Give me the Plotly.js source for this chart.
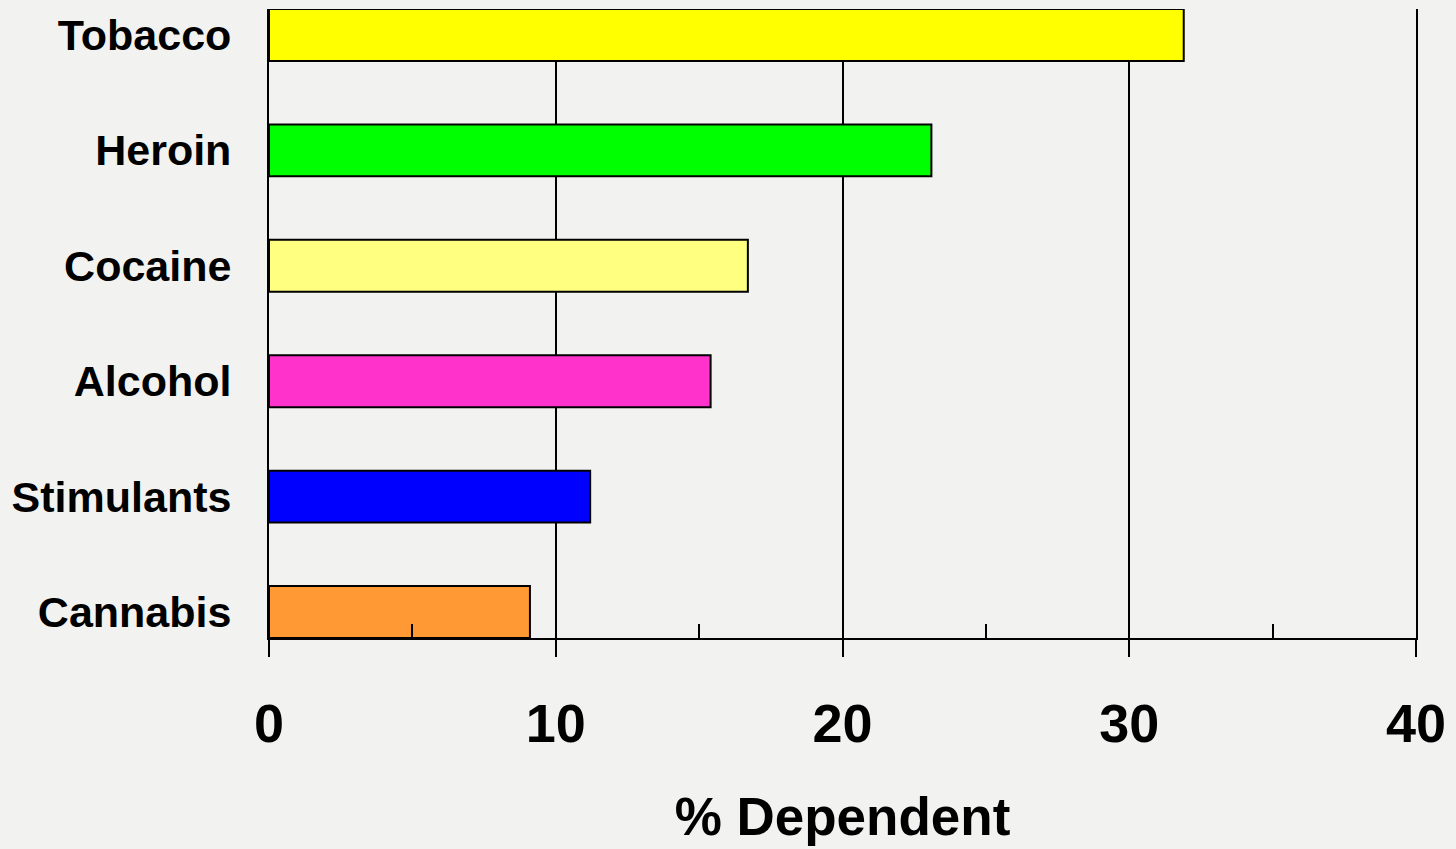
<!DOCTYPE html>
<html><head><meta charset="utf-8">
<script src="https://cdn.plot.ly/plotly-3.0.1.min.js"></script>
<style>html,body{margin:0;padding:0;background:#f2f2f0;}#chart{width:1456px;height:849px;}</style>
</head><body><div id="chart"></div>
<script>
const categories = ["Tobacco", "Heroin", "Cocaine", "Alcohol", "Stimulants", "Cannabis"];
const dependentPct = [31.9, 23.1, 16.7, 15.4, 11.2, 9.1];
const barColors = ["#ffff00", "#00ff00", "#ffff80", "#ff33cc", "#0000ff", "#ff9933"];
const xTicks = [0, 10, 20, 30, 40];

const trace = {
  type: "bar", orientation: "h",
  x: dependentPct, y: categories,
  width: 0.45,
  marker: {color: barColors, line: {color: "#000", width: 2}},
  hoverinfo: "x+y"
};
const layout = {
  width: 1456, height: 849,
  paper_bgcolor: "#f2f2f0", plot_bgcolor: "#f2f2f0",
  margin: {l: 269, r: 40, t: 9, b: 211},
  showlegend: false,
  font: {family: "Liberation Sans, Arial, sans-serif", color: "#000"},
  xaxis: {
    range: [0, 40], tickvals: xTicks, ticktext: xTicks.map(String),
    showgrid: true, gridcolor: "#000", gridwidth: 2,
    zeroline: false, showline: true, linecolor: "#000", linewidth: 2,
    ticks: "outside", ticklen: 17, tickwidth: 2, tickcolor: "#000",
    minor: {tickvals: [5, 15, 25, 35], ticks: "inside", ticklen: 14, tickwidth: 2, tickcolor: "#000", showgrid: false},
    tickfont: {size: 54, family: "Liberation Sans, Arial, sans-serif", weight: "bold"},
    ticklabelstandoff: 20,
    title: {text: "<b>% Dependent</b>", font: {size: 53}, standoff: 46},
    automargin: false, fixedrange: true
  },
  yaxis: {
    type: "category", categoryorder: "array", categoryarray: categories,
    range: [5.225, -0.225],
    showgrid: false, zeroline: false, showline: true, mirror: true, linecolor: "#000", linewidth: 2,
    ticks: "", tickfont: {size: 43, family: "Liberation Sans, Arial, sans-serif", weight: "bold"},
    ticklabelstandoff: 27,
    automargin: false, fixedrange: true
  }
};
Plotly.newPlot("chart", [trace], layout, {displayModeBar: false, staticPlot: true});
</script></body></html>
